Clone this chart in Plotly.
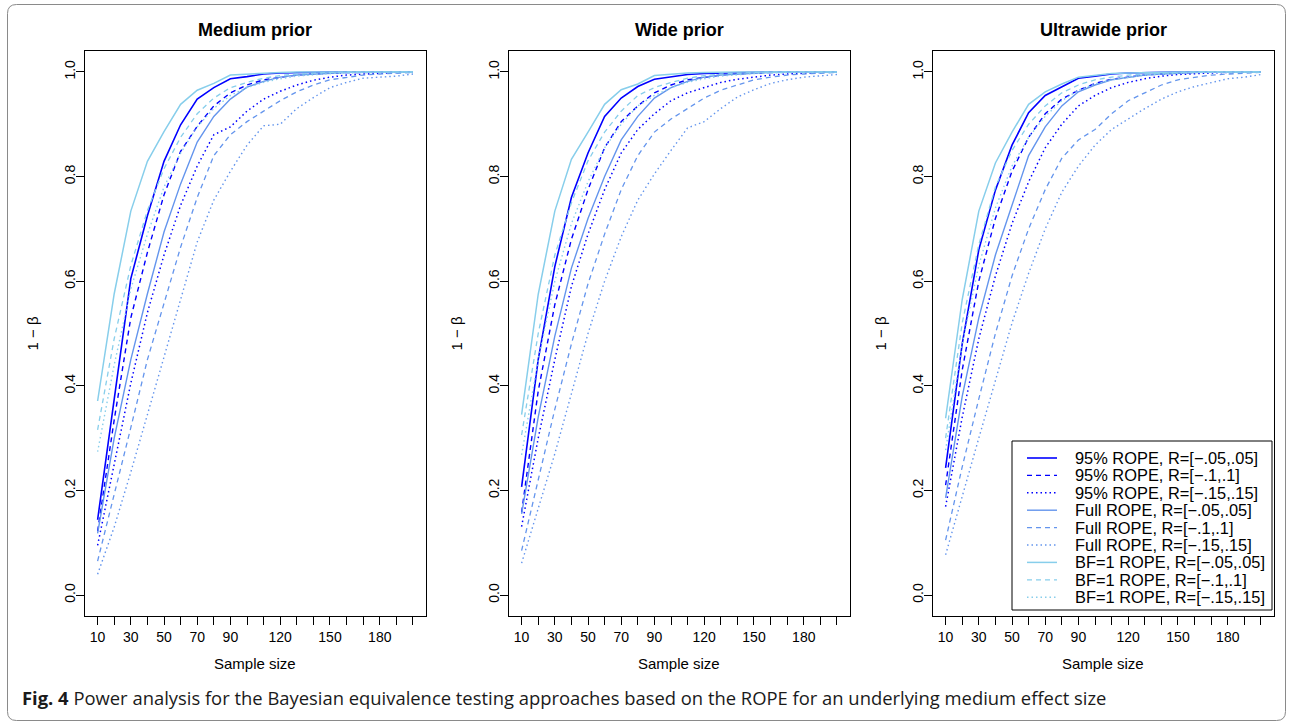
import plotly.graph_objects as go

# ---------------- data ----------------
sample_size = [10, 20, 30, 40, 50, 60, 70, 80, 90, 100, 110, 120, 130, 140, 150, 160, 170, 180, 190, 200]
x_tick_vals = [10, 20, 30, 40, 50, 60, 70, 80, 90, 100, 110, 120, 130, 140, 150, 160, 170, 180, 190, 200]
x_tick_text = ["10", "", "30", "", "50", "", "70", "", "90", "", "", "120", "", "", "150", "", "", "180", "", ""]
y_tick_vals = [0.0, 0.2, 0.4, 0.6, 0.8, 1.0]
y_tick_text = ["0.0", "0.2", "0.4", "0.6", "0.8", "1.0"]
panel_titles = ["Medium prior", "Wide prior", "Ultrawide prior"]
series_labels = [
    "95% ROPE, R=[\u2212.05,.05]", "95% ROPE, R=[\u2212.1,.1]", "95% ROPE, R=[\u2212.15,.15]",
    "Full ROPE, R=[\u2212.05,.05]", "Full ROPE, R=[\u2212.1,.1]", "Full ROPE, R=[\u2212.15,.15]",
    "BF=1 ROPE, R=[\u2212.05,.05]", "BF=1 ROPE, R=[\u2212.1,.1]", "BF=1 ROPE, R=[\u2212.15,.15]",
]

# Medium prior
medium_95_05 = [0.144, 0.375, 0.605, 0.725, 0.829, 0.899, 0.948, 0.970, 0.987, 0.991, 0.996, 0.998, 0.999, 0.999, 1.0, 1.0, 1.0, 1.0, 1.0, 1.0]
medium_95_10 = [0.122, 0.335, 0.530, 0.655, 0.765, 0.848, 0.896, 0.935, 0.960, 0.975, 0.985, 0.990, 0.994, 0.996, 0.998, 0.999, 0.999, 1.0, 1.0, 1.0]
medium_95_15 = [0.095, 0.250, 0.405, 0.540, 0.650, 0.745, 0.820, 0.880, 0.895, 0.925, 0.948, 0.963, 0.975, 0.984, 0.990, 0.994, 0.996, 0.998, 0.999, 1.0]
medium_full_05 = [0.118, 0.300, 0.450, 0.576, 0.694, 0.786, 0.866, 0.915, 0.948, 0.971, 0.982, 0.990, 0.994, 0.996, 0.998, 0.999, 1.0, 1.0, 1.0, 1.0]
medium_full_10 = [0.065, 0.190, 0.320, 0.450, 0.560, 0.665, 0.760, 0.840, 0.880, 0.905, 0.925, 0.945, 0.962, 0.975, 0.985, 0.990, 0.994, 0.996, 0.998, 0.999]
medium_full_15 = [0.040, 0.130, 0.235, 0.345, 0.455, 0.570, 0.675, 0.755, 0.810, 0.860, 0.897, 0.900, 0.930, 0.951, 0.970, 0.980, 0.988, 0.990, 0.992, 0.996]
medium_bf_05 = [0.371, 0.576, 0.734, 0.829, 0.886, 0.938, 0.965, 0.978, 0.994, 0.996, 0.998, 0.999, 1.0, 1.0, 1.0, 1.0, 1.0, 1.0, 1.0, 1.0]
medium_bf_10 = [0.316, 0.490, 0.630, 0.735, 0.815, 0.875, 0.920, 0.950, 0.970, 0.980, 0.988, 0.993, 0.996, 0.998, 0.999, 1.0, 1.0, 1.0, 1.0, 1.0]
medium_bf_15 = [0.274, 0.440, 0.585, 0.690, 0.780, 0.845, 0.895, 0.930, 0.955, 0.970, 0.980, 0.987, 0.992, 0.995, 0.997, 0.998, 0.999, 1.0, 1.0, 1.0]

# Wide prior
wide_95_05 = [0.207, 0.450, 0.628, 0.760, 0.845, 0.915, 0.950, 0.972, 0.986, 0.990, 0.995, 0.997, 0.998, 0.999, 1.0, 1.0, 1.0, 1.0, 1.0, 1.0]
wide_95_10 = [0.158, 0.390, 0.555, 0.680, 0.775, 0.855, 0.905, 0.935, 0.960, 0.975, 0.985, 0.990, 0.994, 0.996, 0.998, 0.999, 1.0, 1.0, 1.0, 1.0]
wide_95_15 = [0.131, 0.300, 0.450, 0.590, 0.690, 0.775, 0.845, 0.890, 0.920, 0.945, 0.960, 0.970, 0.980, 0.986, 0.990, 0.994, 0.996, 0.998, 0.999, 1.0]
wide_full_05 = [0.155, 0.340, 0.495, 0.625, 0.720, 0.800, 0.870, 0.915, 0.950, 0.970, 0.982, 0.990, 0.994, 0.996, 0.998, 0.999, 1.0, 1.0, 1.0, 1.0]
wide_full_10 = [0.085, 0.220, 0.355, 0.480, 0.595, 0.690, 0.775, 0.840, 0.885, 0.910, 0.930, 0.950, 0.965, 0.975, 0.985, 0.990, 0.994, 0.996, 0.998, 0.999]
wide_full_15 = [0.061, 0.165, 0.270, 0.385, 0.500, 0.600, 0.685, 0.755, 0.805, 0.850, 0.893, 0.905, 0.930, 0.952, 0.966, 0.978, 0.985, 0.990, 0.993, 0.995]
wide_bf_05 = [0.345, 0.575, 0.734, 0.833, 0.885, 0.938, 0.966, 0.977, 0.993, 0.996, 0.998, 0.999, 1.0, 1.0, 1.0, 1.0, 1.0, 1.0, 1.0, 1.0]
wide_bf_10 = [0.306, 0.500, 0.650, 0.750, 0.830, 0.885, 0.925, 0.955, 0.970, 0.980, 0.988, 0.993, 0.996, 0.998, 0.999, 1.0, 1.0, 1.0, 1.0, 1.0]
wide_bf_15 = [0.268, 0.450, 0.600, 0.710, 0.790, 0.855, 0.900, 0.935, 0.955, 0.970, 0.980, 0.987, 0.992, 0.995, 0.997, 0.998, 0.999, 1.0, 1.0, 1.0]

# Ultrawide prior
ultra_95_05 = [0.243, 0.480, 0.660, 0.774, 0.860, 0.922, 0.955, 0.972, 0.988, 0.992, 0.996, 0.998, 0.999, 1.0, 1.0, 1.0, 1.0, 1.0, 1.0, 1.0]
ultra_95_10 = [0.210, 0.430, 0.600, 0.720, 0.810, 0.875, 0.920, 0.948, 0.965, 0.978, 0.986, 0.990, 0.994, 0.996, 0.998, 0.999, 1.0, 1.0, 1.0, 1.0]
ultra_95_15 = [0.169, 0.340, 0.490, 0.610, 0.710, 0.790, 0.855, 0.900, 0.935, 0.955, 0.970, 0.980, 0.987, 0.992, 0.995, 0.997, 0.998, 0.999, 1.0, 1.0]
ultra_full_05 = [0.186, 0.380, 0.530, 0.650, 0.745, 0.840, 0.895, 0.935, 0.962, 0.975, 0.985, 0.990, 0.994, 0.996, 0.998, 0.999, 1.0, 1.0, 1.0, 1.0]
ultra_full_10 = [0.105, 0.245, 0.375, 0.500, 0.610, 0.700, 0.775, 0.835, 0.870, 0.890, 0.920, 0.945, 0.960, 0.975, 0.985, 0.990, 0.994, 0.996, 0.998, 0.999]
ultra_full_15 = [0.077, 0.190, 0.300, 0.410, 0.520, 0.615, 0.700, 0.770, 0.820, 0.860, 0.890, 0.910, 0.930, 0.948, 0.962, 0.972, 0.980, 0.987, 0.990, 0.995]
ultra_bf_05 = [0.338, 0.565, 0.734, 0.826, 0.885, 0.938, 0.962, 0.977, 0.990, 0.994, 0.997, 0.998, 0.999, 1.0, 1.0, 1.0, 1.0, 1.0, 1.0, 1.0]
ultra_bf_10 = [0.300, 0.520, 0.670, 0.780, 0.850, 0.900, 0.935, 0.960, 0.975, 0.985, 0.990, 0.994, 0.996, 0.998, 0.999, 1.0, 1.0, 1.0, 1.0, 1.0]
ultra_bf_15 = [0.277, 0.480, 0.630, 0.740, 0.820, 0.875, 0.915, 0.945, 0.965, 0.977, 0.985, 0.990, 0.994, 0.996, 0.998, 0.999, 1.0, 1.0, 1.0, 1.0]

panels = [
    [medium_95_05, medium_95_10, medium_95_15, medium_full_05, medium_full_10, medium_full_15, medium_bf_05, medium_bf_10, medium_bf_15],
    [wide_95_05, wide_95_10, wide_95_15, wide_full_05, wide_full_10, wide_full_15, wide_bf_05, wide_bf_10, wide_bf_15],
    [ultra_95_05, ultra_95_10, ultra_95_15, ultra_full_05, ultra_full_10, ultra_full_15, ultra_bf_05, ultra_bf_10, ultra_bf_15],
]

# ---------------- styles ----------------
W, H = 1289, 725
BLUE, FULL, BF = "#0000FF", "#6495ED", "#87CEEB"
colors = [BLUE, BLUE, BLUE, FULL, FULL, FULL, BF, BF, BF]
SOLID, DASH, DOT = "solid", "5px,4px", "1.5px,3px"
dashes = [SOLID, DASH, DOT] * 3
widths = [1.6, 1.4, 1.5, 1.4, 1.3, 1.4, 1.5, 1.3, 1.4]
FONT = "Liberation Sans, Arial, sans-serif"

# panel geometry in pixels
panel_left = [85, 509, 933]
panel_w = 340.6
plot_top, plot_bottom = 51, 616


def fx(px):
    return px / W


def fy(py):
    return 1 - py / H


fig = go.Figure()

for p, series in enumerate(panels):
    ax = "" if p == 0 else str(p + 1)
    for i, vals in enumerate(series):
        fig.add_trace(go.Scatter(
            x=sample_size, y=vals, mode="lines",
            name=series_labels[i], showlegend=False,
            line=dict(color=colors[i], dash=dashes[i], width=widths[i]),
            xaxis="x" + ax, yaxis="y" + ax,
        ))

axis_common = dict(
    showline=True, mirror=True, linecolor="black", linewidth=1,
    ticks="outside", ticklen=8, tickcolor="black", tickwidth=1,
    showgrid=False, zeroline=False,
    tickfont=dict(family=FONT, size=14, color="black"),
)

layout = dict(
    width=W, height=H, margin=dict(l=0, r=0, t=0, b=0),
    paper_bgcolor="white", plot_bgcolor="white",
    showlegend=False, font=dict(family=FONT, color="black"),
)
annotations = []
shapes = []
for p in range(3):
    ax = "" if p == 0 else str(p + 1)
    x0 = panel_left[p]
    layout["xaxis" + ax] = dict(
        axis_common, domain=[fx(x0), fx(x0 + panel_w)], range=[2.4, 207.6],
        tickmode="array", tickvals=x_tick_vals, ticktext=x_tick_text,
        anchor="y" + ax,
    )
    layout["yaxis" + ax] = dict(
        axis_common, domain=[fy(plot_bottom), fy(plot_top)], range=[-0.04, 1.04],
        tickmode="array", tickvals=y_tick_vals, ticktext=y_tick_text,
        tickangle=-90, anchor="x" + ax, ticklabelstandoff=-5,
    )
    annotations.append(dict(
        text="<b>" + panel_titles[p] + "</b>", x=fx(x0 + panel_w / 2), y=fy(30),
        xref="paper", yref="paper", showarrow=False, xanchor="center", yanchor="middle",
        font=dict(family=FONT, size=18, color="black"),
    ))
    annotations.append(dict(
        text="Sample size", x=fx(x0 + panel_w / 2), y=fy(663),
        xref="paper", yref="paper", showarrow=False, xanchor="center", yanchor="middle",
        font=dict(family=FONT, size=15, color="black"),
    ))
    annotations.append(dict(
        text="1 \u2212 \u03b2", x=fx(x0 - 53), y=fy((plot_top + plot_bottom) / 2),
        xref="paper", yref="paper", showarrow=False, xanchor="center", yanchor="middle",
        textangle=-90, font=dict(family=FONT, size=15, color="black"),
    ))

# legend (drawn manually inside the third panel)
lg_x0, lg_x1, lg_y0, lg_y1 = 1012, 1272, 441, 610
shapes.append(dict(type="rect", xref="paper", yref="paper",
                   x0=fx(lg_x0), x1=fx(lg_x1), y0=fy(lg_y1), y1=fy(lg_y0),
                   line=dict(color="black", width=1), fillcolor="white", layer="above"))
for i, lab in enumerate(series_labels):
    yy = 458 + 17.4 * i
    shapes.append(dict(type="line", xref="paper", yref="paper",
                       x0=fx(1027), x1=fx(1057), y0=fy(yy), y1=fy(yy),
                       line=dict(color=colors[i], dash=dashes[i], width=widths[i]), layer="above"))
    annotations.append(dict(
        text=lab, x=fx(1073), y=fy(yy), xref="paper", yref="paper", showarrow=False,
        xanchor="left", yanchor="middle", font=dict(family=FONT, size=16.4, color="black"),
    ))

# caption
annotations.append(dict(
    text="<b>Fig. 4</b> Power analysis for the Bayesian equivalence testing approaches based on the ROPE for an underlying medium effect size",
    x=fx(20), y=fy(697), xref="paper", yref="paper", showarrow=False,
    xanchor="left", yanchor="middle", font=dict(family="Open Sans, sans-serif", size=18.4, color="#1a1a1a"),
))

# outer rounded frame
L, R_, T, B, r = 7.5, 1285.5, 4.5, 720.5, 9
path = (
    f"M {fx(L + r)} {fy(T)} L {fx(R_ - r)} {fy(T)} Q {fx(R_)} {fy(T)} {fx(R_)} {fy(T + r)} "
    f"L {fx(R_)} {fy(B - r)} Q {fx(R_)} {fy(B)} {fx(R_ - r)} {fy(B)} "
    f"L {fx(L + r)} {fy(B)} Q {fx(L)} {fy(B)} {fx(L)} {fy(B - r)} "
    f"L {fx(L)} {fy(T + r)} Q {fx(L)} {fy(T)} {fx(L + r)} {fy(T)} Z"
)
shapes.append(dict(type="path", xref="paper", yref="paper", path=path,
                   line=dict(color="#8a8a8a", width=1), layer="below"))

layout["annotations"] = annotations
layout["shapes"] = shapes
fig.update_layout(**layout)

fig.write_html("out.html")
